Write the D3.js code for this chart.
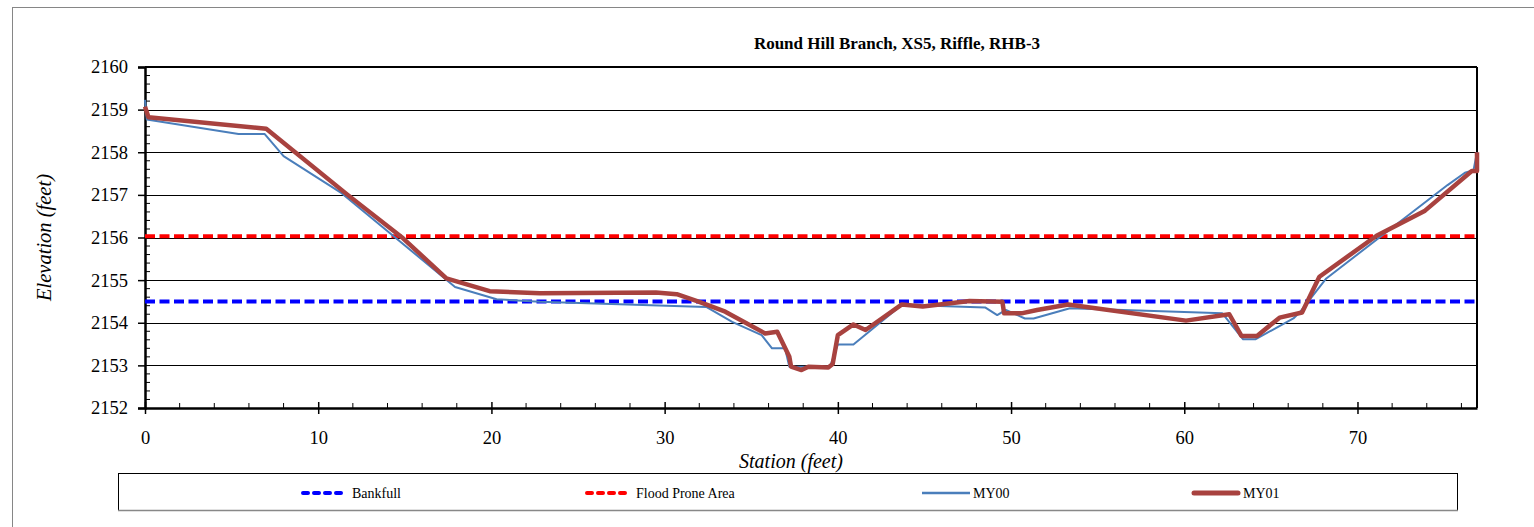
<html>
    <head>
        <title>Round Hill Branch XS5</title>
        <style>
            body { margin: 0; background: #fff; }
            svg text { font-family: "Liberation Serif", "Times New Roman", serif; fill: #000; }
        </style>
    </head>
    <body>
        <svg></svg>

        <script src="https://d3js.org/d3.v7.min.js"></script>
        <script>
            // chart values
            const stationMY00 = [0, 0.1, 5.4, 6.9, 8.0, 11.35, 17.9, 20.3, 22.8, 32.4, 33.9, 35.6, 36.2, 36.95, 37.2, 39.55, 40.0, 40.9, 43.7, 48.5, 49.2, 49.7, 50.8, 51.3, 53.4, 62.2, 63.4, 64.1, 66.3, 66.7, 68.2, 75.2, 76.2, 76.7, 76.9];
            const elevMY00 = [2159.23, 2158.77, 2158.43, 2158.43, 2157.91, 2157.04, 2154.84, 2154.55, 2154.49, 2154.37, 2154.02, 2153.71, 2153.40, 2153.40, 2152.97, 2152.97, 2153.49, 2153.49, 2154.42, 2154.36, 2154.18, 2154.30, 2154.10, 2154.10, 2154.34, 2154.22, 2153.61, 2153.61, 2154.10, 2154.26, 2155.04, 2157.23, 2157.52, 2157.58, 2158.0];

            const stationMY01 = [0, 0.2, 7.0, 11.7, 14.9, 17.4, 19.9, 22.8, 29.5, 30.7, 32.0, 33.5, 35.8, 36.5, 37.2, 37.3, 37.9, 38.3, 39.45, 39.7, 40.0, 40.9, 41.6, 43.7, 44.9, 47.6, 49.5, 49.6, 50.6, 51.5, 53.3, 60.1, 62.6, 63.3, 64.2, 65.5, 66.8, 67.8, 71.1, 73.9, 76.6, 76.9, 76.9];
            const elevMY01 = [2159.07, 2158.82, 2158.55, 2157.0, 2155.98, 2155.04, 2154.74, 2154.69, 2154.71, 2154.67, 2154.49, 2154.26, 2153.75, 2153.79, 2153.2, 2152.97, 2152.89, 2152.97, 2152.95, 2153.03, 2153.71, 2153.96, 2153.83, 2154.43, 2154.38, 2154.51, 2154.49, 2154.22, 2154.22, 2154.30, 2154.43, 2154.05, 2154.20, 2153.69, 2153.69, 2154.12, 2154.24, 2155.08, 2156.04, 2156.63, 2157.56, 2157.56, 2158.0];

            const bankfull = 2154.5;
            const floodProne = 2156.03;

            const xTicks = [0, 10, 20, 30, 40, 50, 60, 70];
            const yTicks = [2152, 2153, 2154, 2155, 2156, 2157, 2158, 2159, 2160];

            const legendNames = ["Bankfull", "Flood Prone Area", "MY00", "MY01"];

            // page and plot geometry
            const width = 1534, height = 527;
            const plotLeft = 145, plotRight = 1477, plotTop = 67, plotBottom = 408;
            const serif = "'Liberation Serif', 'Times New Roman', serif";

            const svg = d3.select("svg")
                .attr("width", width)
                .attr("height", height);

            // outer chart frame
            svg.append("rect")
                .attr("x", 12.5).attr("y", 7.5)
                .attr("width", 1540).attr("height", 540)
                .attr("fill", "#fff")
                .attr("stroke", "#868686");

            const x = d3.scaleLinear().domain([0, 76.9]).range([plotLeft, plotRight]);
            const y = d3.scaleLinear().domain([2152, 2160]).range([plotBottom, plotTop]);

            // horizontal gridlines
            svg.append("g")
                .selectAll("line")
                .data(yTicks.slice(1))
                .join("line")
                .attr("x1", plotLeft).attr("x2", plotRight)
                .attr("y1", d => Math.round(y(d)) + 0.5)
                .attr("y2", d => Math.round(y(d)) + 0.5)
                .attr("stroke", "#000")
                .attr("stroke-width", 1);

            // right border of plot
            svg.append("line")
                .attr("x1", plotRight).attr("x2", plotRight)
                .attr("y1", plotTop).attr("y2", plotBottom)
                .attr("stroke", "#000").attr("stroke-width", 2);

            // minor ticks (inside the plot)
            const yMinor = d3.range(2152.2, 2160, 0.2).filter(v => Math.abs(v - Math.round(v)) > 0.01);
            svg.append("g")
                .selectAll("line")
                .data(yMinor)
                .join("line")
                .attr("x1", plotLeft).attr("x2", plotLeft + 5)
                .attr("y1", d => y(d)).attr("y2", d => y(d))
                .attr("stroke", "#000");

            const xMinor = d3.range(2, 77, 2).filter(v => v % 10 !== 0);
            svg.append("g")
                .selectAll("line")
                .data(xMinor)
                .join("line")
                .attr("x1", d => x(d)).attr("x2", d => x(d))
                .attr("y1", plotBottom).attr("y2", plotBottom - 5)
                .attr("stroke", "#000");

            // axes
            const yAxis = svg.append("g")
                .attr("transform", "translate(" + plotLeft + ",0)")
                .call(d3.axisLeft(y).tickValues(yTicks).tickFormat(d3.format("d")).tickSize(7).tickPadding(10))
                .attr("font-family", serif).attr("font-size", 18.5);
            yAxis.select(".domain").attr("stroke-width", 2.5);
            yAxis.selectAll(".tick line").attr("stroke-width", 1.5);

            const xAxis = svg.append("g")
                .attr("transform", "translate(0," + plotBottom + ")")
                .call(d3.axisBottom(x).tickValues(xTicks).tickSize(6).tickPadding(17).tickSizeOuter(0))
                .attr("font-family", serif).attr("font-size", 18.5);
            xAxis.select(".domain").attr("stroke-width", 2.5);
            xAxis.selectAll(".tick line").attr("y1", -6).attr("stroke-width", 1.5);

            // top border
            svg.append("line")
                .attr("x1", plotLeft).attr("x2", plotRight)
                .attr("y1", plotTop).attr("y2", plotTop)
                .attr("stroke", "#000").attr("stroke-width", 2);

            // reference lines
            const dash = "10,4.5";
            svg.append("line")
                .attr("x1", plotLeft).attr("x2", plotRight)
                .attr("y1", y(bankfull)).attr("y2", y(bankfull))
                .attr("stroke", "#0000ff").attr("stroke-width", 4)
                .attr("stroke-dasharray", dash);
            svg.append("line")
                .attr("x1", plotLeft).attr("x2", plotRight)
                .attr("y1", y(floodProne)).attr("y2", y(floodProne))
                .attr("stroke", "#ff0000").attr("stroke-width", 4)
                .attr("stroke-dasharray", dash);

            // survey lines
            const line = d3.line()
                .x(d => x(d[0]))
                .y(d => y(d[1]));

            svg.append("path")
                .datum(d3.zip(stationMY00, elevMY00))
                .attr("d", line)
                .attr("fill", "none")
                .attr("stroke", "#4a7ebb")
                .attr("stroke-width", 2)
                .attr("stroke-linejoin", "round");

            svg.append("path")
                .datum(d3.zip(stationMY01, elevMY01))
                .attr("d", line)
                .attr("fill", "none")
                .attr("stroke", "#a8423f")
                .attr("stroke-width", 4.5)
                .attr("stroke-linejoin", "round");

            // titles
            svg.append("text")
                .attr("x", 897).attr("y", 49)
                .attr("text-anchor", "middle")
                .attr("font-family", serif)
                .style("font-size", "17px")
                .style("font-weight", "bold")
                .text("Round Hill Branch, XS5, Riffle, RHB-3");

            svg.append("text")
                .attr("x", 791).attr("y", 468)
                .attr("text-anchor", "middle")
                .attr("font-family", serif)
                .style("font-size", "20px")
                .style("font-style", "italic")
                .text("Station (feet)");

            svg.append("text")
                .attr("transform", "translate(51," + ((plotTop + plotBottom) / 2) + ") rotate(-90)")
                .attr("text-anchor", "middle")
                .attr("font-family", serif)
                .style("font-size", "20.5px")
                .style("font-style", "italic")
                .text("Elevation (feet)");

            // legend
            const legend = svg.append("g");
            legend.append("rect")
                .attr("x", 118.5).attr("y", 473.5)
                .attr("width", 1339).attr("height", 37)
                .attr("fill", "#fff")
                .attr("stroke", "#000");
            legend.append("line")
                .attr("x1", 118).attr("x2", 1458)
                .attr("y1", 510.5).attr("y2", 510.5)
                .attr("stroke", "#888").attr("stroke-width", 1.5);

            const legendX = [301, 585, 922, 1192];
            const legendStyle = [
                { color: "#0000ff", w: 4, dash: "5,6", cap: "round" },
                { color: "#ff0000", w: 4, dash: "5,6", cap: "round" },
                { color: "#4a7ebb", w: 2.5, dash: null, cap: "butt" },
                { color: "#a8423f", w: 5, dash: null, cap: "round" }
            ];

            const item = legend.selectAll(".item")
                .data(legendNames)
                .join("g")
                .attr("class", "item")
                .attr("transform", (d, i) => "translate(" + legendX[i] + ",493)");

            item.append("line")
                .attr("x1", (d, i) => legendStyle[i].cap === "round" ? 2 : 0)
                .attr("x2", (d, i) => legendStyle[i].cap === "round" ? 46 : 48)
                .attr("stroke", (d, i) => legendStyle[i].color)
                .attr("stroke-width", (d, i) => legendStyle[i].w)
                .attr("stroke-dasharray", (d, i) => legendStyle[i].dash)
                .attr("stroke-linecap", (d, i) => legendStyle[i].cap);

            item.append("text")
                .attr("x", 51)
                .attr("dy", "0.35em")
                .attr("font-family", serif)
                .style("font-size", "14px")
                .text(d => d);
        </script>
    </body>
</html>
